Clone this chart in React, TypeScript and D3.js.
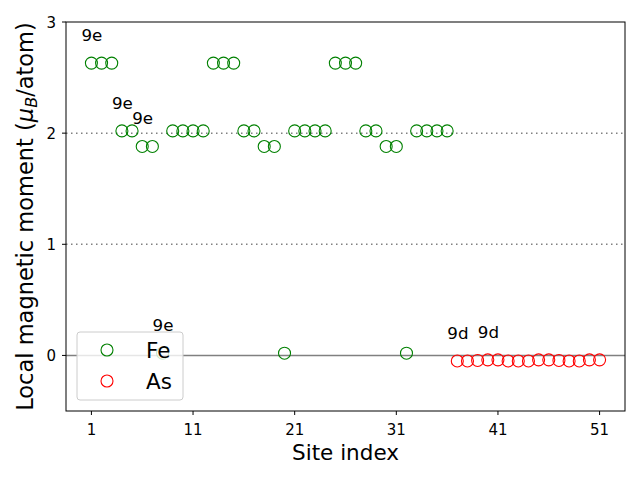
import React from "react";
import * as d3 from "d3";

const feSites = [1,2,3,4,5,6,7,8,9,10,11,12,13,14,15,16,17,18,19,20,21,22,23,24,25,26,27,28,29,30,31,32,33,34,35,36];
const feMoments = [2.63,2.63,2.63,2.02,2.02,1.88,1.88,0.02,2.02,2.02,2.02,2.02,2.63,2.63,2.63,2.02,2.02,1.88,1.88,0.02,2.02,2.02,2.02,2.02,2.63,2.63,2.63,2.02,2.02,1.88,1.88,0.02,2.02,2.02,2.02,2.02];
const asSites = [37,38,39,40,41,42,43,44,45,46,47,48,49,50,51];
const asMoments = [-0.05,-0.05,-0.045,-0.04,-0.04,-0.05,-0.05,-0.05,-0.04,-0.04,-0.045,-0.05,-0.05,-0.04,-0.04];
const labelSites = [1,4,6,8,37,40];
const labelTexts = ["9e","9e","9e","9e","9d","9d"];
const xTicks = [1,11,21,31,41,51];
const yTicks = [0,1,2,3];
const refLines = [1,2];

const W = 640, H = 480;
const M = { left: 66, right: 625, top: 22, bottom: 411 };
const FONT = "DejaVu Sans, sans-serif";

export default function App() {
  const x = d3.scaleLinear().domain([-1.5, 53.5]).range([M.left, M.right]);
  const y = d3.scaleLinear().domain([-0.5, 3]).range([M.bottom, M.top]);
  const valueAt = (s: number) => {
    const i = feSites.indexOf(s);
    if (i >= 0) return feMoments[i];
    return asMoments[asSites.indexOf(s)];
  };
  const r = 6;
  return (
    <svg width={W} height={H} style={{ position: "absolute", left: 0, top: 0, fontFamily: FONT }}>
      <rect width={W} height={H} fill="#fff" />
      <defs>
        <clipPath id="plot">
          <rect x={M.left} y={M.top} width={M.right - M.left} height={M.bottom - M.top} />
        </clipPath>
      </defs>
      <g clipPath="url(#plot)">
        {refLines.map((v) => (
          <line key={v} x1={M.left} x2={M.right} y1={y(v)} y2={y(v)} stroke="#808080" strokeWidth={1.5} strokeDasharray="1.5,3.5" />
        ))}
        <line x1={M.left} x2={M.right} y1={y(0)} y2={y(0)} stroke="#808080" strokeWidth={1.5} />
        {feSites.map((s, i) => (
          <circle key={"fe" + s} cx={x(s)} cy={y(feMoments[i])} r={r} fill="none" stroke="#008000" strokeWidth={1.1} />
        ))}
        {asSites.map((s, i) => (
          <circle key={"as" + s} cx={x(s)} cy={y(asMoments[i])} r={r} fill="none" stroke="#ff0000" strokeWidth={1.1} />
        ))}
      </g>
      {labelSites.map((s, i) => (
        <text key={"lb" + i} x={x(s) - 10} y={y(valueAt(s)) - 22} fontSize={16.7} fill="#000">{labelTexts[i]}</text>
      ))}
      <rect x={M.left} y={M.top} width={M.right - M.left} height={M.bottom - M.top} fill="none" stroke="#000" strokeWidth={1} />
      {xTicks.map((t) => (
        <g key={"xt" + t}>
          <line x1={x(t)} x2={x(t)} y1={M.bottom} y2={M.bottom + 4} stroke="#000" />
          <text x={x(t)} y={M.bottom + 24} fontSize={15} textAnchor="middle">{t}</text>
        </g>
      ))}
      {yTicks.map((t) => (
        <g key={"yt" + t}>
          <line x1={M.left - 4} x2={M.left} y1={y(t)} y2={y(t)} stroke="#000" />
          <text x={M.left - 10} y={y(t) + 6} fontSize={15} textAnchor="end">{t}</text>
        </g>
      ))}
      <text x={(M.left + M.right) / 2} y={460} fontSize={21.5} textAnchor="middle">Site index</text>
      <text transform={`translate(33, ${(M.top + M.bottom) / 2}) rotate(-90)`} fontSize={22.5} textAnchor="middle">
        Local magnetic moment (<tspan fontStyle="italic">μ</tspan><tspan fontStyle="italic" fontSize={16} dy={4}>B</tspan><tspan dy={-4}>/atom)</tspan>
      </text>
      <g>
        <rect x={77} y={332} width={106} height={68} rx={3} fill="#fff" fillOpacity={0.8} stroke="#cccccc" strokeWidth={1} />
        <circle cx={107} cy={350} r={r} fill="none" stroke="#008000" strokeWidth={1.1} />
        <text x={146} y={358} fontSize={21.5}>Fe</text>
        <circle cx={107} cy={381} r={r} fill="none" stroke="#ff0000" strokeWidth={1.1} />
        <text x={146} y={389} fontSize={21.5}>As</text>
      </g>
    </svg>
  );
}
